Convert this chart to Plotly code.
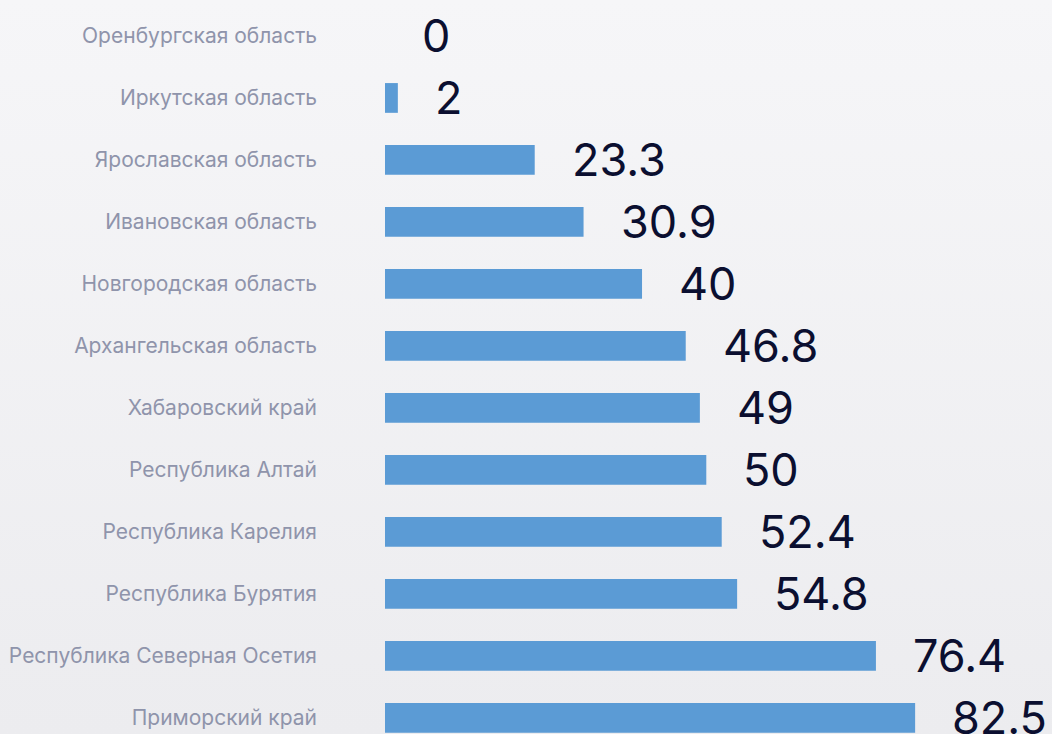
import plotly.graph_objects as go

# data (top to bottom)
regions = [
    "Оренбургская область",
    "Иркутская область",
    "Ярославская область",
    "Ивановская область",
    "Новгородская область",
    "Архангельская область",
    "Хабаровский край",
    "Республика Алтай",
    "Республика Карелия",
    "Республика Бурятия",
    "Республика Северная Осетия",
    "Приморский край",
]
values = [0, 2, 23.3, 30.9, 40, 46.8, 49, 50, 52.4, 54.8, 76.4, 82.5]

BAR_COLOR = "#5b9bd5"
LABEL_COLOR = "#8f94ab"
VALUE_COLOR = "#0b0f30"

fig = go.Figure()
fig.add_trace(go.Bar(
    x=values,
    y=regions,
    orientation="h",
    marker=dict(color=BAR_COLOR, line=dict(width=0)),
    width=0.48,
    hoverinfo="x+y",
))

# value labels to the right of each bar
for reg, val in zip(regions, values):
    fig.add_annotation(
        x=val, y=reg, xref="x", yref="y",
        text=f"{val:g}",
        showarrow=False,
        xanchor="left", yanchor="middle",
        xshift=35,
        font=dict(family="Inter, Roboto, sans-serif", size=45, color=VALUE_COLOR),
    )

fig.update_layout(
    width=1052, height=734,
    margin=dict(l=385, r=0, t=0, b=0),
    paper_bgcolor="rgba(0,0,0,0)",
    plot_bgcolor="rgba(0,0,0,0)",
    showlegend=False,
    xaxis=dict(range=[0, 103.8], visible=False, fixedrange=True),
    yaxis=dict(
        type="category",
        range=[11.26, -0.58],
        showgrid=False, zeroline=False, showline=False,
        ticks="", ticklabelstandoff=67,
        tickfont=dict(family="Inter, Roboto, sans-serif", size=21, color=LABEL_COLOR),
        automargin=False,
        fixedrange=True,
    ),
)

# page without the default body margin, soft vertical gradient behind the chart
page_js = (
    "document.body.style.margin='0';"
    "document.body.style.overflow='hidden';"
    "document.body.style.background='linear-gradient(180deg,#f6f6f8 0%,#ececef 100%)';"
    "document.body.style.minHeight='100vh';"
)
fig.write_html("out.html", post_script=page_js, config={"displayModeBar": False})
